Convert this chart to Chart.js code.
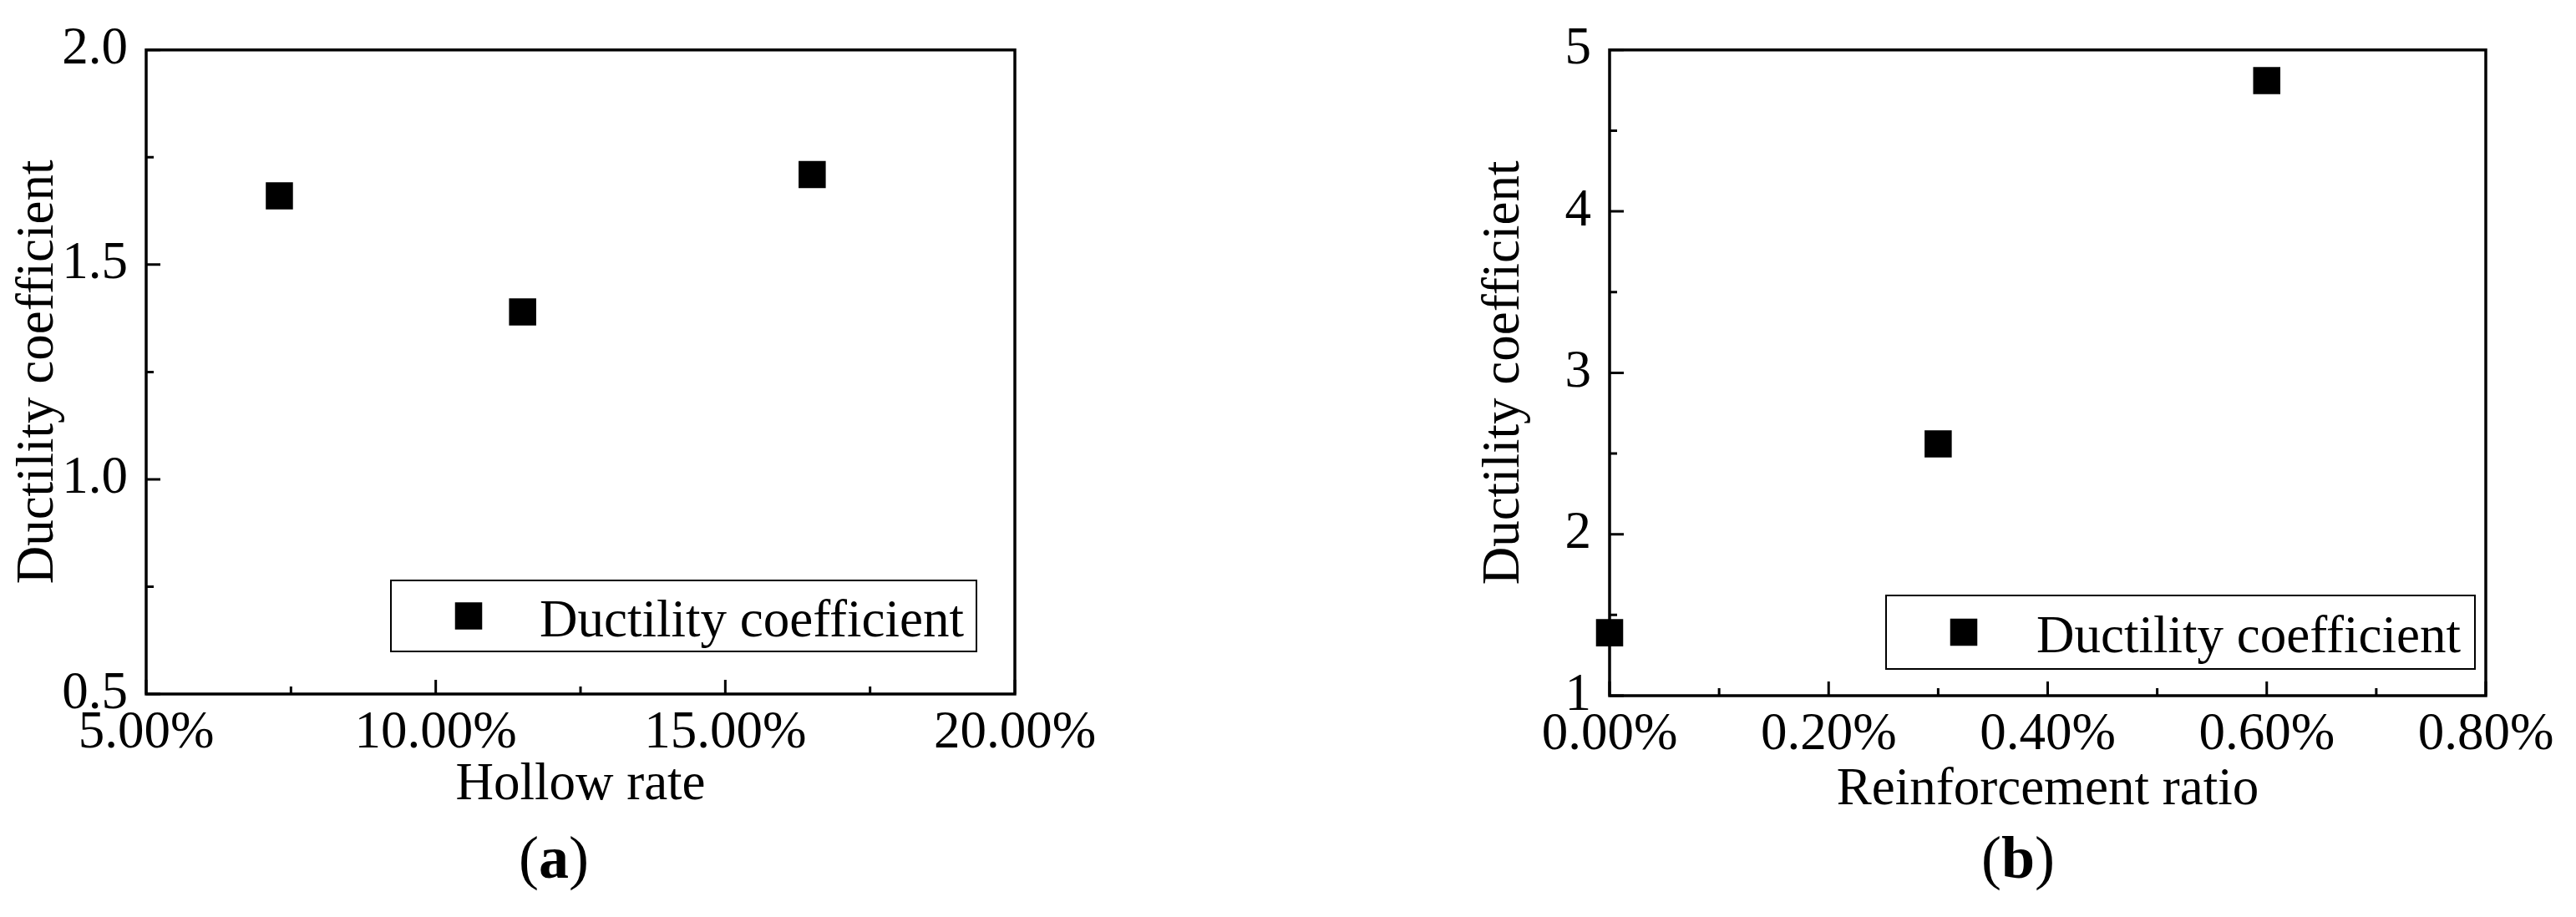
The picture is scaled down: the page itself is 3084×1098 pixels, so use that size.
<!DOCTYPE html>
<html>
<head>
<meta charset="utf-8">
<script src="https://cdn.jsdelivr.net/npm/chart.js@4.4.1/dist/chart.umd.min.js"></script>
<style>
  html, body { margin: 0; padding: 0; background: #fff; }
  body { width: 3084px; height: 1098px; position: relative; overflow: hidden;
         font-family: "Liberation Serif", "Times New Roman", serif; color: #000; }
  .panel { position: absolute; top: 0; height: 1098px; }
  .sub { position: absolute; top: 991px; width: 200px; text-align: center;
         font-size: 72px; line-height: 72px; }
</style>
</head>
<body>
<div class="panel" style="left:0;width:1500px"><canvas id="chartA"></canvas></div>
<div class="panel" style="left:1750px;width:1334px"><canvas id="chartB"></canvas></div>
<div class="sub" style="left:563px">(<b>a</b>)</div>
<div class="sub" style="left:2316px">(<b>b</b>)</div>

<script>
// --- datos ---
const seriesLabel = 'Ductility coefficient';

// (a) hollow rate (%) vs ductility
const hollowRate = [7.3, 11.5, 16.5];
const ductilityA = [1.66, 1.39, 1.71];
const xRangeA = [5, 20];       // %
const xStepA = [2.5, 5];       // [minor, major]
const yRangeA = [0.5, 2.0];
const yStepA = [0.25, 0.5];

// (b) reinforcement ratio (%) vs ductility
const reinfRatio = [0.0, 0.3, 0.6];
const ductilityB = [1.39, 2.56, 4.81];
const xRangeB = [0, 0.8];
const xStepB = [0.1, 0.2];
const yRangeB = [1, 5];
const yStepB = [0.5, 1];

Chart.defaults.font.family = '"Liberation Serif", "Times New Roman", serif';
Chart.defaults.font.size = 63;
Chart.defaults.color = '#000';

const isMajor = (v, min, major) => {
  const k = (v - min) / major;
  return Math.abs(k - Math.round(k)) < 1e-6;
};

/**
 * Marco del area y marcas de eje hacia dentro (mayores y menores)
 */
const frameTicks = {
  id: 'frameTicks',
  beforeDatasetsDraw(chart, args, o) {
    const { ctx, chartArea: a, scales: { x, y } } = chart;
    ctx.save();
    ctx.strokeStyle = '#000';
    ctx.lineWidth = 3;
    ctx.beginPath();
    x.ticks.forEach(t => {
      const px = x.getPixelForValue(t.value);
      const len = isMajor(t.value, x.min, o.xMajor) ? 17 : 9;
      ctx.moveTo(px, a.bottom);
      ctx.lineTo(px, a.bottom - len);
    });
    y.ticks.forEach(t => {
      const py = y.getPixelForValue(t.value);
      const len = isMajor(t.value, y.min, o.yMajor) ? 17 : 9;
      ctx.moveTo(a.left, py);
      ctx.lineTo(a.left + len, py);
    });
    ctx.stroke();
    ctx.lineWidth = 3.5;
    ctx.strokeRect(a.left, a.top, a.right - a.left, a.bottom - a.top);
    ctx.restore();
  }
};

/**
 * Leyenda con recuadro dentro del area del grafico
 */
const boxLegend = {
  id: 'boxLegend',
  afterDraw(chart, args, o) {
    const { ctx, chartArea: a } = chart;
    const x0 = a.right - o.right - o.width;
    const y0 = a.bottom - o.bottom - o.height;
    const ds = chart.data.datasets[0];
    const side = ds.pointRadius * Math.SQRT2;
    ctx.save();
    ctx.strokeStyle = '#000';
    ctx.lineWidth = 2;
    ctx.strokeRect(x0, y0, o.width, o.height);
    ctx.fillStyle = '#000';
    ctx.fillRect(x0 + o.markerX - side / 2, y0 + o.height / 2 - side / 2, side, side);
    ctx.font = '63px "Liberation Serif", "Times New Roman", serif';
    ctx.textBaseline = 'alphabetic';
    ctx.fillText(ds.label, x0 + o.textX, y0 + o.height / 2 + 24);
    ctx.restore();
  }
};

function makeChart(id, xs, ys, cfg) {
  return new Chart(document.getElementById(id), {
    type: 'scatter',
    data: {
      datasets: [{
        label: seriesLabel,
        data: xs.map((x, i) => ({ x, y: ys[i] })),
        pointStyle: 'rect',
        pointRadius: 23,
        pointHoverRadius: 23,
        backgroundColor: '#000',
        borderWidth: 0,
        clip: false
      }]
    },
    options: {
      responsive: true,
      maintainAspectRatio: false,
      animation: false,
      events: [],
      layout: { padding: cfg.padding },
      plugins: {
        legend: { display: false },
        tooltip: { enabled: false },
        frameTicks: { xMajor: cfg.xStep[1], yMajor: cfg.yStep[1] },
        boxLegend: cfg.legend
      },
      scales: {
        x: {
          type: 'linear',
          min: cfg.xRange[0],
          max: cfg.xRange[1],
          border: { display: false },
          grid: { display: false, drawTicks: false },
          ticks: {
            stepSize: cfg.xStep[0],
            autoSkip: false,
            maxRotation: 0,
            minRotation: 0,
            padding: 10,
            callback: v => isMajor(v, cfg.xRange[0], cfg.xStep[1]) ? v.toFixed(2) + '%' : ''
          },
          title: { display: true, text: cfg.xTitle, padding: { top: 0, bottom: cfg.xTitlePad } },
          afterFit(s) { s.height = cfg.xHeight; }
        },
        y: {
          type: 'linear',
          min: cfg.yRange[0],
          max: cfg.yRange[1],
          border: { display: false },
          grid: { display: false, drawTicks: false },
          ticks: {
            stepSize: cfg.yStep[0],
            autoSkip: false,
            padding: 22,
            callback: v => isMajor(v, cfg.yRange[0], cfg.yStep[1]) ? v.toFixed(cfg.yDigits) : ''
          },
          title: { display: true, text: seriesLabel, padding: { top: cfg.yTitlePad, bottom: 0 } },
          afterFit(s) { s.width = cfg.yWidth; }
        }
      }
    },
    plugins: [frameTicks, boxLegend]
  });
}

makeChart('chartA', hollowRate, ductilityA, {
  xRange: xRangeA, xStep: xStepA, yRange: yRangeA, yStep: yStepA, yDigits: 1,
  xTitle: 'Hollow rate', xTitlePad: 120, yTitlePad: 9,
  padding: { left: 0, top: 42, right: 285, bottom: 0 },
  xHeight: 267, yWidth: 175,
  legend: { width: 701, height: 85, right: 46, bottom: 51, markerX: 93, textX: 178 }
});

makeChart('chartB', reinfRatio, ductilityB, {
  xRange: xRangeB, xStep: xStepB, yRange: yRangeB, yStep: yStepB, yDigits: 0,
  xTitle: 'Reinforcement ratio', xTitlePad: 114, yTitlePad: 14,
  padding: { left: 0, top: 40, right: 108, bottom: 0 },
  xHeight: 265, yWidth: 177,
  legend: { width: 705, height: 88, right: 13, bottom: 32, markerX: 93, textX: 180 }
});
</script>
</body>
</html>
